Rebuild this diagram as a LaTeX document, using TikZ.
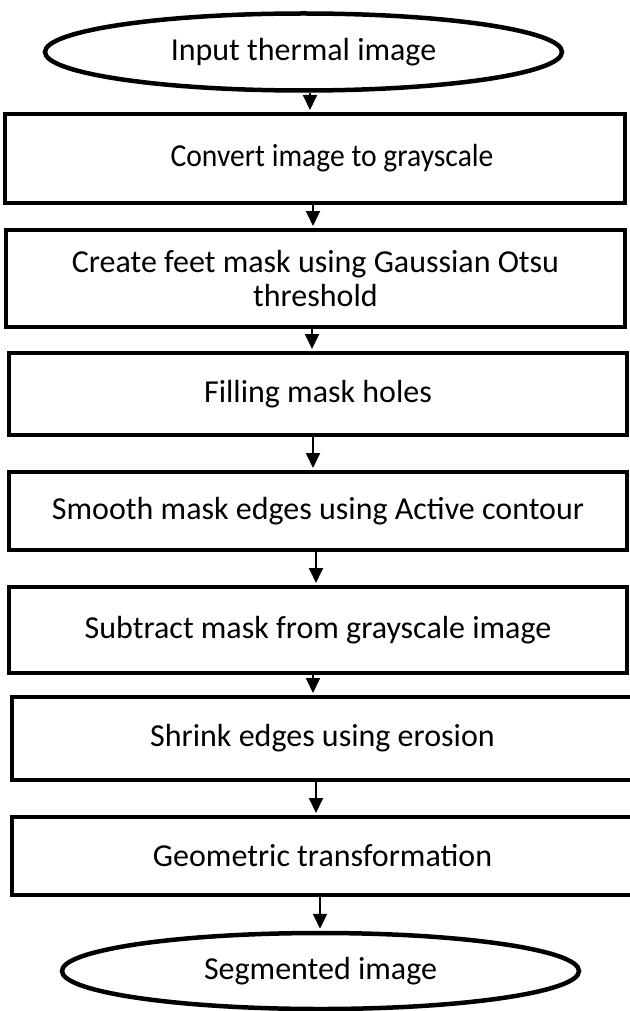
\documentclass[tikz,border=0pt]{standalone}
\usepackage{graphicx}
\usepackage{fontspec}
\setmainfont{Carlito}
\usetikzlibrary{arrows.meta,shapes.geometric}
\begin{document}
\begin{tikzpicture}[x=1pt,y=-1pt,
  txt/.style={font=\fontsize{32}{34}\selectfont},
  box/.style={txt, draw, line width=4pt, rectangle, inner sep=0pt, align=center},
  term/.style={txt, draw, line width=4.5pt, ellipse, inner sep=0pt},
  arr/.style={line width=1.8pt, shorten >=2pt, -{Triangle[width=14pt,length=15pt]}}]
\fill[white] (0,0) rectangle (629,1011);
\useasboundingbox (0,0) rectangle (629,1011);

\node[term, minimum width=517, minimum height=77] (e1) at (303.5,52) {Input thermal image};
\node[box, minimum width=620, minimum height=89] (b1) at (315,158.5) {\hspace*{34pt}\scalebox{0.925}[1]{Convert image to grayscale}};
\node[box, minimum width=619, minimum height=97] (b2) at (315.5,278.5) {Create feet mask using Gaussian Otsu\\threshold};
\node[box, minimum width=618, minimum height=82] (b3) at (318,394) {Filling mask holes};
\node[box, minimum width=618, minimum height=78] (b4) at (318,511) {Smooth mask edges using Active contour};
\node[box, minimum width=618, minimum height=86] (b5) at (318,630) {Subtract mask from grayscale image};
\node[box, minimum width=621, minimum height=83] (b6) at (322.5,738.5) {Shrink edges using erosion};
\node[box, minimum width=621, minimum height=78] (b7) at (322.5,856) {Geometric transformation};
\node[term, minimum width=517, minimum height=76] (e2) at (320.5,971) {Segmented image};

\draw[arr] (e1.south -| 310,0) -- (b1.north -| 310,0);
\draw[arr] (b1.south -| 313,0) -- (b2.north -| 313,0);
\draw[arr] (b2.south -| 312,0) -- (b3.north -| 312,0);
\draw[arr] (b3.south -| 313,0) -- (b4.north -| 313,0);
\draw[arr] (b4.south -| 316,0) -- (b5.north -| 316,0);
\draw[arr] (b5.south -| 313,0) -- (b6.north -| 313,0);
\draw[arr] (b6.south -| 316,0) -- (b7.north -| 316,0);
\draw[arr] (b7.south -| 320,0) -- (e2.north -| 320,0);
\end{tikzpicture}
\end{document}
